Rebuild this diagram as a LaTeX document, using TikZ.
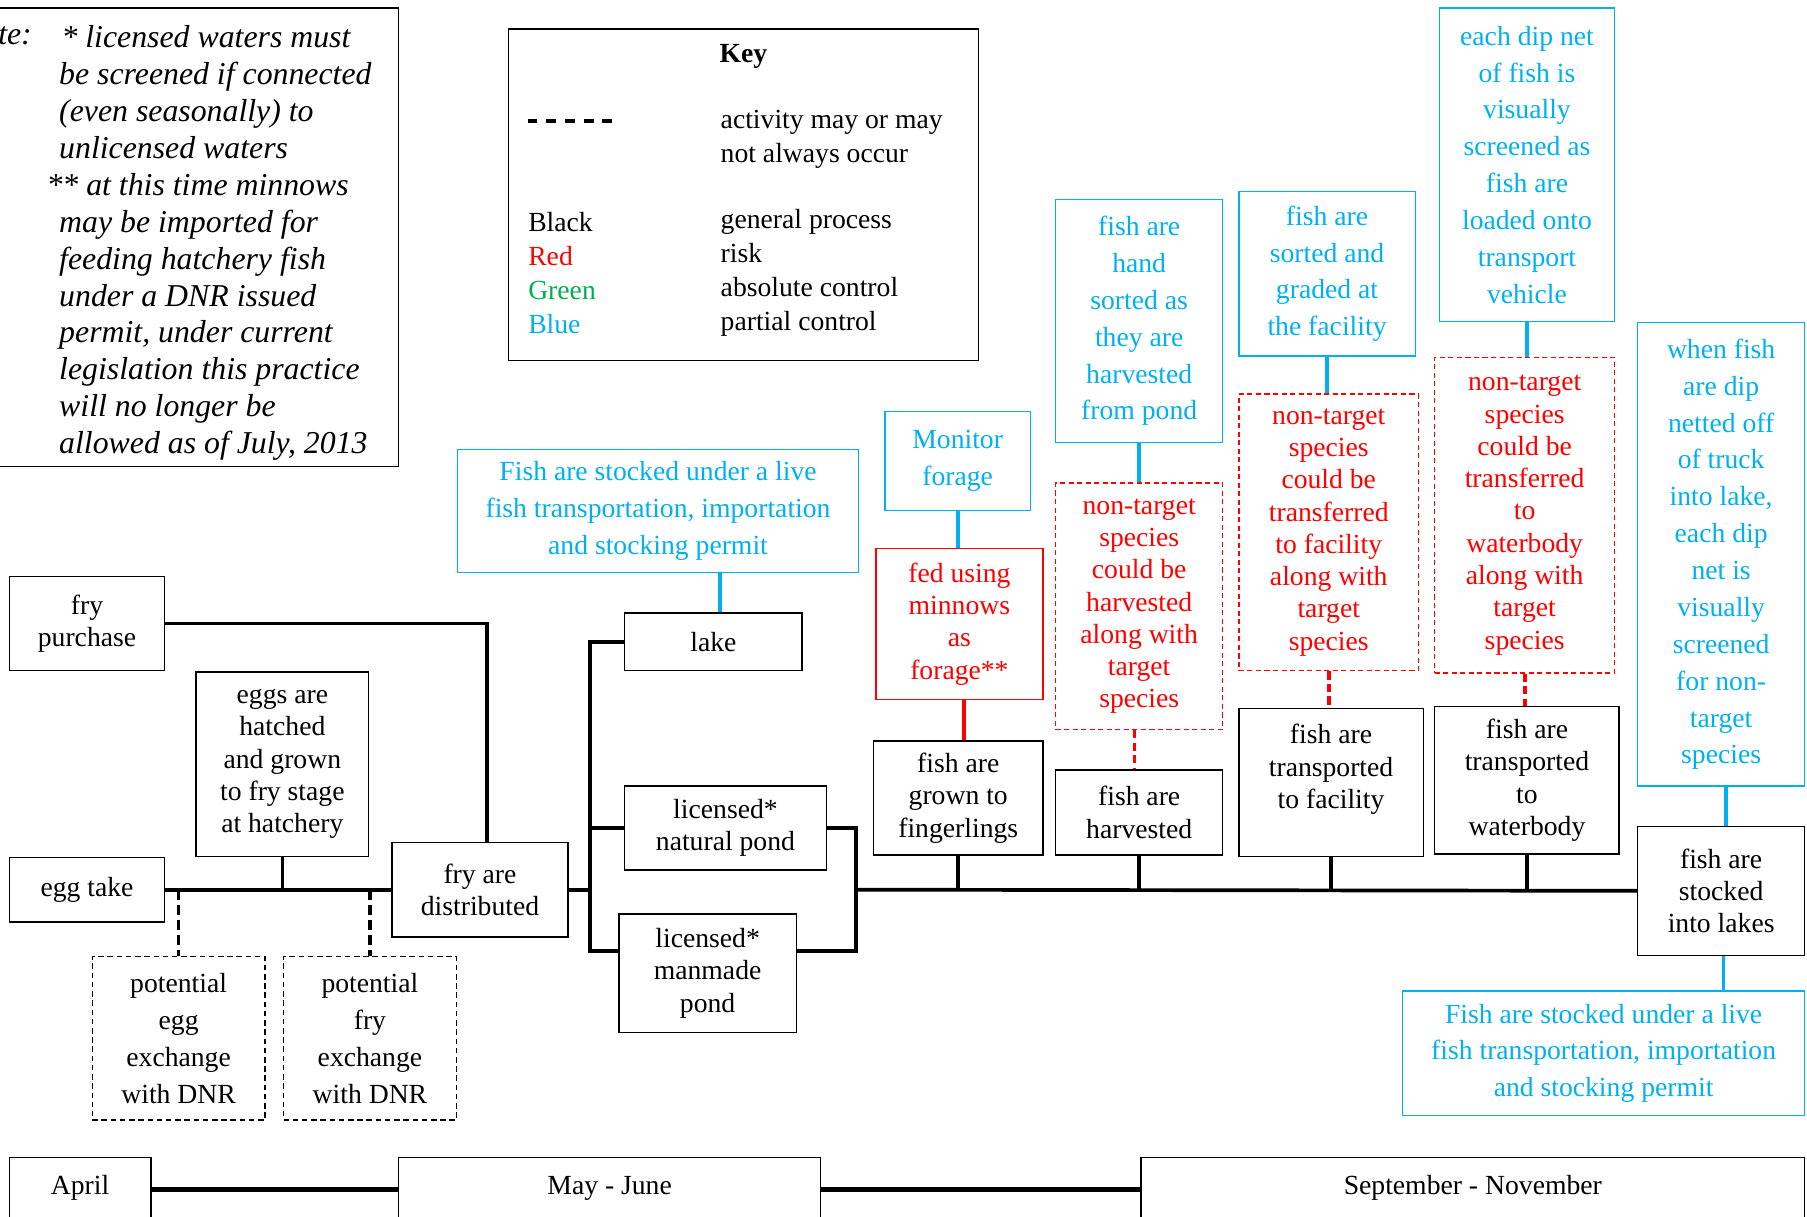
\documentclass[tikz,border=0pt]{standalone}
\usepackage{fontspec}
\setmainfont{Liberation Serif}
\usepackage{xcolor}
\usepackage{tikz}
\usetikzlibrary{calc}

\definecolor{ctrlblue}{RGB}{0,176,240}
\definecolor{riskred}{RGB}{255,0,0}
\definecolor{ctrlgreen}{RGB}{0,176,80}

\tikzset{
  proc/.style={draw, line width=0.6pt, align=center, inner sep=2pt, font=\fontsize{12}{14}\selectfont},
  procopt/.style={proc, dash pattern=on 2.4pt off 1.6pt, font=\fontsize{12}{16}\selectfont},
  ctrl/.style={proc, draw=ctrlblue, text=ctrlblue, font=\fontsize{12}{16}\selectfont},
  risk/.style={proc, draw=riskred, text=riskred},
  riskopt/.style={risk, dash pattern=on 2.2pt off 1.5pt},
  month/.style={draw, line width=0.6pt, inner sep=0pt, anchor=north, text height=16pt, text depth=40pt, font=\fontsize{12}{14}\selectfont},
  keytxt/.style={align=left, inner sep=0pt, font=\fontsize{12}{14.8}\selectfont},
  notetxt/.style={align=left, inner sep=0pt, font=\fontsize{13.8}{16}\selectfont\itshape},
  flow/.style={line width=1.6pt},
  flowopt/.style={flow, dash pattern=on 4.5pt off 2pt},
  ctrlflow/.style={flow, ctrlblue},
  riskflow/.style={flow, riskred},
  riskflowopt/.style={riskflow, dash pattern=on 3.6pt off 1.8pt},
}

\begin{document}
\begin{tikzpicture}[x=0.5pt, y=-0.5pt]
\useasboundingbox (0,0) rectangle (1568,1056);
\clip (0,0) rectangle (1568,1056);

% note
\draw[line width=0.6pt] (-60,7) rectangle (346,405);
\node[notetxt, anchor=base east] (notelbl) at (28,39) {Note:};
\node[notetxt, anchor=north west] (notebody) at (51,22) {\hspace*{1pt}* licensed waters must\\be screened if connected\\(even seasonally) to\\unlicensed waters\\\hspace*{-5.5pt}** at this time minnows\\may be imported for\\feeding hatchery fish\\under a DNR issued\\permit, under current\\legislation this practice\\will no longer be\\allowed as of July, 2013};

% key
\node[draw, line width=0.6pt, minimum width=204pt, minimum height=144pt] (key) at (645,169) {};
\node[font=\fontsize{12}{14}\selectfont\bfseries, inner sep=0pt] (keytitle) at (645,49) {Key};
\draw[line width=1.4pt, dash pattern=on 4.2pt off 3.9pt] (458,105) -- (531,105);
\node[keytxt, anchor=west, font=\fontsize{12}{14.5}\selectfont] (keydash) at (625,121) {activity may or may\\not always occur};
\node[keytxt, anchor=west] (keycolours) at (458,237) {Black\\\textcolor{riskred}{Red}\\\textcolor{ctrlgreen}{Green}\\\textcolor{ctrlblue}{Blue}};
\node[keytxt, anchor=west] (keymeaning) at (625,237) {general process\\risk\\absolute control\\partial control};

% hatchery stage
\node[proc, minimum width=67.5pt, minimum height=41pt] (frypurchase) at (75.5,541) {fry\\purchase};
\node[proc, minimum width=67.5pt, minimum height=28pt] (eggtake) at (75.5,772) {egg take};
\node[proc, minimum width=75pt, minimum height=80pt] (hatched) at (245,663) {eggs are\\hatched\\and grown\\to fry stage\\at hatchery};
\node[procopt, minimum width=75pt, minimum height=71pt] (potegg) at (155,901) {potential\\egg\\exchange\\with DNR};
\node[procopt, minimum width=75pt, minimum height=71pt] (potfry) at (321,901) {potential\\fry\\exchange\\with DNR};
\node[proc, minimum width=76.5pt, minimum height=41pt] (distributed) at (416.5,772) {fry are\\distributed};

% waters
\node[ctrl, minimum width=174pt, minimum height=53.5pt] (permitA) at (571,443.5) {Fish are stocked under a live\\fish transportation, importation\\and stocking permit};
\node[proc, minimum width=77pt, minimum height=25pt] (lake) at (619,557) {lake};
\node[proc, minimum width=87.5pt, minimum height=36.5pt] (natpond) at (629.5,718.5) {licensed*\\natural pond};
\node[proc, minimum width=77pt, minimum height=51.5pt] (manpond) at (614,844.5) {licensed*\\manmade\\pond};
\coordinate (manin) at ([yshift=9.75pt]manpond.west);
\coordinate (manout) at ([yshift=9.75pt]manpond.east);
\coordinate (fork) at (512,772);
\coordinate (merge) at (743,772);

% grow-out and harvest
\node[ctrl, minimum width=63pt, minimum height=43pt] (monitor) at (831,400) {Monitor\\forage};
\node[risk, minimum width=72.5pt, minimum height=65.5pt] (fed) at (832.5,541.5) {fed using\\minnows\\as\\forage**};
\node[proc, minimum width=73.5pt, minimum height=49.5pt] (grown) at (831.5,692.5) {fish are\\grown to\\fingerlings};

\node[ctrl, minimum width=72.5pt, minimum height=105.5pt] (handsorted) at (988.5,278.5) {fish are\\hand\\sorted as\\they are\\harvested\\from pond};
\node[riskopt, minimum width=72.5pt, minimum height=107pt] (riskharvest) at (988.5,526) {non-target\\species\\could be\\harvested\\along with\\target\\species};
\node[proc, minimum width=72.5pt, minimum height=37pt] (harvested) at (988.5,705) {fish are\\harvested};

\node[ctrl, minimum width=76.5pt, minimum height=71.5pt] (graded) at (1151.5,237.5) {fish are\\sorted and\\graded at\\the facility};
\node[riskopt, minimum width=78pt, minimum height=120pt] (riskfacility) at (1153,462) {non-target\\species\\could be\\transferred\\to facility\\along with\\target\\species};
\node[proc, minimum width=80pt, minimum height=64pt] (tofacility) at (1155,679) {fish are\\transported\\to facility\\\mbox{}};

\node[ctrl, minimum width=76pt, minimum height=136pt] (dipnet) at (1325,143) {each dip net\\of fish is\\visually\\screened as\\fish are\\loaded onto\\transport\\vehicle};
\node[riskopt, minimum width=78pt, minimum height=137pt] (riskwater) at (1323,447) {non-target\\species\\could be\\transferred\\to\\waterbody\\along with\\target\\species};
\node[proc, minimum width=80pt, minimum height=64pt] (towater) at (1325,677) {fish are\\transported\\to\\waterbody};

% stocking
\node[ctrl, minimum width=72.5pt, minimum height=201pt] (dipoff) at (1493.5,481) {when fish\\are dip\\netted off\\of truck\\into lake,\\each dip\\net is\\visually\\screened\\for non-\\target\\species};
\node[proc, minimum width=72.5pt, minimum height=56pt] (stocked) at (1493.5,773) {fish are\\stocked\\into lakes};
\node[ctrl, minimum width=174.5pt, minimum height=54pt] (permitB) at (1391.5,914) {Fish are stocked under a live\\fish transportation, importation\\and stocking permit};

% time line
\node[month, minimum width=61.5pt] (april) at (69.5,1004) {April};
\node[month, minimum width=183pt] (mayjune) at (529,1004) {May - June};
\node[month, minimum width=288pt] (sepnov) at (1278,1004) {September - November};

% connectors
\draw[flow] (frypurchase.east) -| ([xshift=3pt]distributed.north);
\draw[flow] (eggtake.east) -- (distributed.west);
\draw[flow] (hatched.south) -- (hatched.south |- eggtake.east);
\draw[flowopt] (potegg.north |- eggtake.east) -- (potegg.north);
\draw[flowopt] (potfry.north |- eggtake.east) -- (potfry.north);
\draw[flow] (distributed.east) -- (fork);
\draw[flow] (lake.west) -- (lake.west -| fork) -- (fork |- manin) -- (manin);
\draw[flow] (natpond.west) -- (natpond.west -| fork);
\draw[flow] (natpond.east) -| (merge |- manout) -- (manout);
\draw[flow] (merge) -- (stocked.west);
\draw[flow] (grown.south) -- (grown.south |- merge);
\draw[flow] (harvested.south) -- (harvested.south |- merge);
\draw[flow] (tofacility.south) -- (tofacility.south |- merge);
\draw[flow] (towater.south) -- (towater.south |- merge);

\draw[ctrlflow] ([xshift=3pt]lake.north) -- ([xshift=3pt]lake.north |- permitA.south);
\draw[ctrlflow] (monitor.south) -- (monitor.south |- fed.north);
\draw[riskflow] ([xshift=2pt]fed.south) -- ([xshift=2pt]fed.south |- grown.north);
\draw[ctrlflow] (handsorted.south) -- (riskharvest.north);
\draw[riskflowopt] ([xshift=-2pt]riskharvest.south) -- ([xshift=-2pt]harvested.north);
\draw[ctrlflow] (graded.south) -- (graded.south |- riskfacility.north);
\draw[riskflowopt] (riskfacility.south) -- (riskfacility.south |- tofacility.north);
\draw[ctrlflow] (dipnet.south) -- (dipnet.south |- riskwater.north);
\draw[riskflowopt] (riskwater.south) -- (riskwater.south |- towater.north);
\draw[ctrlflow] ([xshift=2pt]dipoff.south) -- ([xshift=2pt]stocked.north);
\draw[ctrlflow] ([xshift=1pt]stocked.south) -- ([xshift=1pt]stocked.south |- permitB.north);

\draw[flow, line width=2pt] (april.mid east) -- (mayjune.mid west);
\draw[flow, line width=2pt] (mayjune.mid east) -- (sepnov.mid west);
\end{tikzpicture}
\end{document}
